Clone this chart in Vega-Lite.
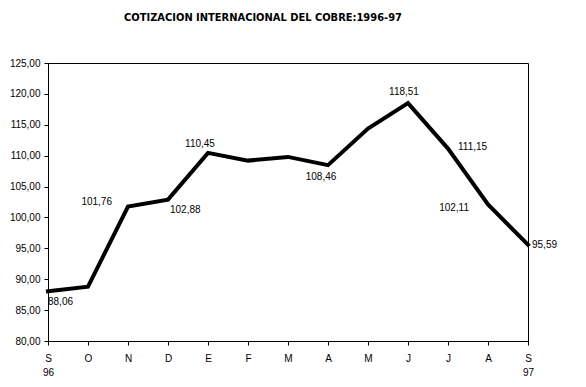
{
  "$schema": "https://vega.github.io/schema/vega-lite/v6.json",
  "autosize": "none",
  "width": 480,
  "height": 278,
  "padding": {"left": 48, "top": 63, "right": 58, "bottom": 46},
  "background": "white",
  "title": {
    "text": "COTIZACION INTERNACIONAL DEL COBRE:1996-97",
    "font": "DejaVu Sans Condensed, Liberation Sans",
    "fontSize": 11,
    "fontWeight": "bold",
    "color": "black",
    "anchor": "middle",
    "dx": -25,
    "offset": 35
  },
  "config": {
    "view": {"stroke": "black", "strokeWidth": 1},
    "font": "Liberation Sans",
    "axis": {
      "grid": false,
      "domainColor": "black",
      "tickColor": "black",
      "labelColor": "black",
      "labelFont": "Liberation Sans",
      "labelFontSize": 10,
      "tickSize": 4,
      "title": null
    }
  },
  "data": {
    "values": [
      {"periodo": "S-96", "valor": 88.06},
      {"periodo": "O-96", "valor": 88.8},
      {"periodo": "N-96", "valor": 101.76},
      {"periodo": "D-96", "valor": 102.88},
      {"periodo": "E-97", "valor": 110.45},
      {"periodo": "F-97", "valor": 109.2},
      {"periodo": "M-97", "valor": 109.8},
      {"periodo": "A-97", "valor": 108.46},
      {"periodo": "My-97", "valor": 114.4},
      {"periodo": "J-97", "valor": 118.51},
      {"periodo": "Jl-97", "valor": 111.15},
      {"periodo": "Ag-97", "valor": 102.11},
      {"periodo": "S-97", "valor": 95.59}
    ]
  },
  "encoding": {
    "x": {
      "field": "periodo",
      "type": "ordinal",
      "sort": null,
      "scale": {"type": "point", "padding": 0},
      "axis": {
        "labelAngle": 0,
        "labelPadding": 8,
        "labelLineHeight": 14,
        "labelBaseline": "top",
        "labelExpr": "datum.value=='S-96' ? ['S','96'] : datum.value=='S-97' ? ['S','97'] : datum.value=='My-97' ? 'M' : datum.value=='Jl-97' ? 'J' : datum.value=='Ag-97' ? 'A' : split(datum.value,'-')[0]"
      }
    },
    "y": {
      "field": "valor",
      "type": "quantitative",
      "scale": {"domain": [80, 125], "nice": false, "zero": false},
      "axis": {
        "values": [80, 85, 90, 95, 100, 105, 110, 115, 120, 125],
        "labelPadding": 4,
        "labelExpr": "replace(format(datum.value, '.2f'), '.', ',')"
      }
    }
  },
  "layer": [
    {"mark": {"type": "line", "color": "black", "strokeWidth": 4, "strokeJoin": "miter", "strokeCap": "square"}},
    {
      "transform": [{"filter": "datum.periodo=='S-96'"}],
      "mark": {"type": "text", "align": "left", "baseline": "middle", "dx": 0, "dy": 11, "fontSize": 10, "color": "black", "text": "88,06"},
      "encoding": {}
    },
    {
      "transform": [{"filter": "datum.periodo=='N-96'"}],
      "mark": {"type": "text", "align": "right", "baseline": "middle", "dx": -16, "dy": -5, "fontSize": 10, "color": "black", "text": "101,76"},
      "encoding": {}
    },
    {
      "transform": [{"filter": "datum.periodo=='D-96'"}],
      "mark": {"type": "text", "align": "left", "baseline": "middle", "dx": 2, "dy": 10, "fontSize": 10, "color": "black", "text": "102,88"},
      "encoding": {}
    },
    {
      "transform": [{"filter": "datum.periodo=='E-97'"}],
      "mark": {"type": "text", "align": "center", "baseline": "middle", "dx": -8, "dy": -9, "fontSize": 10, "color": "black", "text": "110,45"},
      "encoding": {}
    },
    {
      "transform": [{"filter": "datum.periodo=='A-97'"}],
      "mark": {"type": "text", "align": "center", "baseline": "middle", "dx": -7, "dy": 12, "fontSize": 10, "color": "black", "text": "108,46"},
      "encoding": {}
    },
    {
      "transform": [{"filter": "datum.periodo=='J-97'"}],
      "mark": {"type": "text", "align": "center", "baseline": "middle", "dx": -4, "dy": -11, "fontSize": 10, "color": "black", "text": "118,51"},
      "encoding": {}
    },
    {
      "transform": [{"filter": "datum.periodo=='Jl-97'"}],
      "mark": {"type": "text", "align": "left", "baseline": "middle", "dx": 10, "dy": -2, "fontSize": 10, "color": "black", "text": "111,15"},
      "encoding": {}
    },
    {
      "transform": [{"filter": "datum.periodo=='Ag-97'"}],
      "mark": {"type": "text", "align": "right", "baseline": "middle", "dx": -19, "dy": 4, "fontSize": 10, "color": "black", "text": "102,11"},
      "encoding": {}
    },
    {
      "transform": [{"filter": "datum.periodo=='S-97'"}],
      "mark": {"type": "text", "align": "left", "baseline": "middle", "dx": 4, "dy": 0, "fontSize": 10, "color": "black", "text": "95,59"},
      "encoding": {}
    }
  ]
}
